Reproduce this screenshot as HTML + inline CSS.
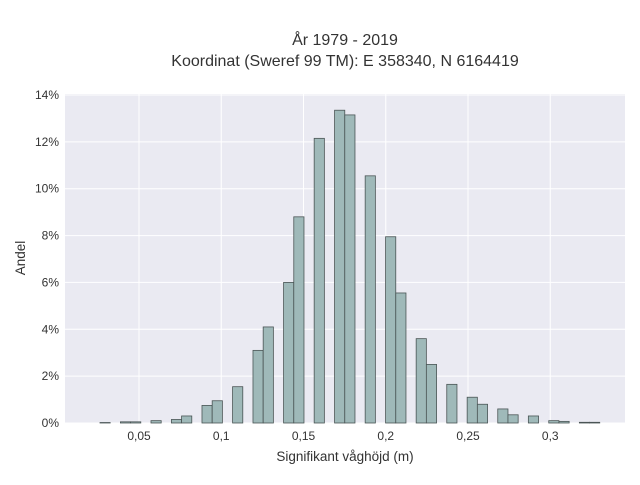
<!DOCTYPE html>
<html><head><meta charset="utf-8"><style>
body{margin:0;background:#fff;}
svg text{font-family:"Liberation Sans",sans-serif;fill:#333;}
</style></head><body>
<svg id="c" width="640" height="480" xmlns="http://www.w3.org/2000/svg">
<text x="345" y="45" text-anchor="middle" font-size="16">År 1979 - 2019</text>
<text x="345" y="66" text-anchor="middle" font-size="16">Koordinat (Sweref 99 TM): E 358340, N 6164419</text>
<text x="345" y="461" text-anchor="middle" font-size="13.5">Signifikant våghöjd (m)</text>
<text transform="translate(25,258) rotate(-90)" text-anchor="middle" font-size="13.5">Andel</text>
</svg>
<script>
const binStart = 0.02629;
const binWidth = 0.0062;
const values = [0.02,0,0.05,0.05,0,0.1,0,0.15,0.3,0,0.75,0.95,0,1.55,0,3.1,4.1,0,6.0,8.8,0,12.15,0,13.35,13.15,0,10.55,0,7.95,5.55,0,3.6,2.5,0,1.65,0,1.1,0.8,0,0.6,0.35,0,0.3,0,0.1,0.07,0,0.03,0.03];
const xTicks = [0.05,0.1,0.15,0.2,0.25,0.3];
const xTickLabels = ["0,05","0,1","0,15","0,2","0,25","0,3"];
const yTicks = [0,2,4,6,8,10,12,14];
const yTickLabels = ["0%","2%","4%","6%","8%","10%","12%","14%"];
const svg = document.getElementById('c');
const NS = 'http://www.w3.org/2000/svg';
const L=65,R=625,T=94,B=423;
const xs = v => 139 + (v-0.05)*1645;
const ys = v => B - v*(B-95)/14;
function mk(t,a){const e=document.createElementNS(NS,t);for(const k in a)e.setAttribute(k,a[k]);svg.appendChild(e);return e;}
const bg = mk('rect',{x:L,y:T,width:R-L,height:B-T,fill:'#eaeaf2'});


xTicks.forEach((v,i)=>{
  const g=mk('line',{x1:xs(v),x2:xs(v),y1:T,y2:B,stroke:'#fff','stroke-width':1});
  
  
  const t=mk('text',{x:xs(v),y:440,'text-anchor':'middle','font-size':12});
  t.textContent=xTickLabels[i];
  
  
});
yTicks.forEach((v,i)=>{
  const g=mk('line',{x1:L,x2:R,y1:ys(v),y2:ys(v),stroke:'#fff','stroke-width':1});
  
  
  const t=mk('text',{x:59,y:ys(v)+4,'text-anchor':'end','font-size':12});
  t.textContent=yTickLabels[i];
  
  
});
values.forEach((v,i)=>{
  if(v<=0) return;
  const x0=xs(binStart+i*binWidth), x1=xs(binStart+(i+1)*binWidth);
  const r=mk('rect',{x:x0,y:ys(v),width:x1-x0,height:B-ys(v),fill:'#9fb9b9',stroke:'#4a5555','stroke-width':0.8});
  
  
});
</script>
</body></html>
